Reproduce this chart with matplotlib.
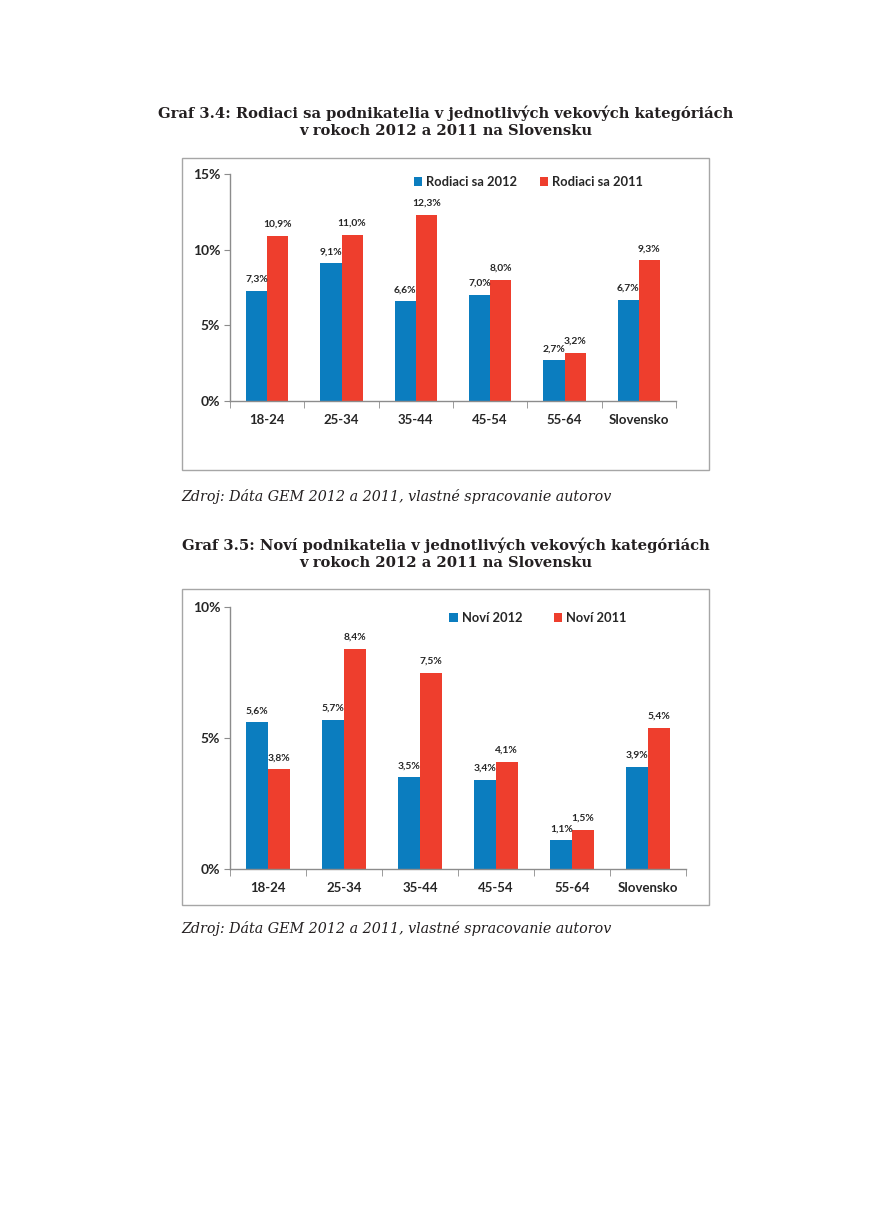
import matplotlib
matplotlib.use("Agg")
import matplotlib.pyplot as plt
from matplotlib.patches import Rectangle
import numpy as np

categories = ["18-24", "25-34", "35-44", "45-54", "55-64", "Slovensko"]

rodiaci_2012 = [7.3, 9.1, 6.6, 7.0, 2.7, 6.7]
rodiaci_2011 = [10.9, 11.0, 12.3, 8.0, 3.2, 9.3]
novi_2012 = [5.6, 5.7, 3.5, 3.4, 1.1, 3.9]
novi_2011 = [3.8, 8.4, 7.5, 4.1, 1.5, 5.4]

title1a = "Graf 3.4: Rodiaci sa podnikatelia v jednotlivých vekových kategóriách"
title1b = "v rokoch 2012 a 2011 na Slovensku"
title2a = "Graf 3.5: Noví podnikatelia v jednotlivých vekových kategóriách"
title2b = "v rokoch 2012 a 2011 na Slovensku"
source = "Zdroj: Dáta GEM 2012 a 2011, vlastné spracovanie autorov"

BLUE = "#0B7DBF"
RED = "#EE3E2D"
GRAY = "#8C8C8C"
W, H = 871, 1231

fig = plt.figure(figsize=(W / 100, H / 100), dpi=100)
fig.patch.set_facecolor("white")
renderer = fig.canvas.get_renderer()

SANS = ["Lato", "DejaVu Sans"]
SERIF = ["DejaVu Serif"]


def fit_text(x, y, s, target_w, **kw):
    t = fig.text(x / W, 1 - y / H, s, fontsize=12, **kw)
    w = t.get_window_extent(renderer).width
    t.set_fontsize(12 * target_w / w)
    return t


def px_axes(x0, y0, x1, y1):
    return fig.add_axes([x0 / W, 1 - y1 / H, (x1 - x0) / W, (y1 - y0) / H])


def box(x0, y0, x1, y1):
    fig.patches.append(Rectangle((x0 / W, 1 - y1 / H), (x1 - x0) / W, (y1 - y0) / H,
                                 transform=fig.transFigure, fill=False,
                                 edgecolor="#A6A6A6", linewidth=1.0))


def fmt(v):
    return f"{v:.1f}".replace(".", ",") + "%"


def chart(ax, s12, s11, ymax, yticks, names, legend_pos, colsp):
    x = np.arange(len(categories))
    w = 0.285
    ax.bar(x - w / 2, s12, width=w, color=BLUE, label=names[0])
    ax.bar(x + w / 2, s11, width=w, color=RED, label=names[1])
    for xs, vals in ((x - w / 2, s12), (x + w / 2, s11)):
        for xi, v in zip(xs, vals):
            ax.annotate(fmt(v), (xi, v), xytext=(0, 5), textcoords="offset points",
                        ha="center", va="bottom", fontsize=7.4, fontweight="bold",
                        family=SANS, color="#262626")
    ax.set_xlim(-0.5, len(categories) - 0.5)
    ax.set_ylim(0, ymax)
    ax.set_yticks(yticks)
    ax.set_yticklabels([f"{t}%" for t in yticks], fontsize=10, fontweight="bold",
                       family=SANS, color="#262626")
    ax.set_xticks(x)
    ax.set_xticklabels(categories, fontsize=9.5, fontweight="bold", family=SANS,
                       color="#262626")
    ax.set_xticks(np.arange(-0.5, len(categories)), minor=True)
    ax.tick_params(axis="x", which="major", length=0, pad=9)
    ax.tick_params(axis="x", which="minor", length=5, color=GRAY, direction="out")
    ax.tick_params(axis="y", which="major", length=4, color=GRAY, direction="out", pad=3)
    for s in ["top", "right"]:
        ax.spines[s].set_visible(False)
    for s in ["left", "bottom"]:
        ax.spines[s].set_color(GRAY)
        ax.spines[s].set_linewidth(1.0)
    leg = ax.legend(loc="upper left", bbox_to_anchor=legend_pos, ncol=2, frameon=False,
                    prop={"family": SANS, "weight": "bold", "size": 9.3},
                    handlelength=0.65, handleheight=0.65, handletextpad=0.3,
                    columnspacing=colsp, borderaxespad=0)
    for t in leg.get_texts():
        t.set_color("#262626")


title_kw = dict(ha="center", va="center", fontweight="bold", family=SERIF, color="#231F20")
cap_kw = dict(ha="left", va="center", style="italic", family=SERIF, color="#231F20")

# Chart 1
t = fit_text(446, 113, title1a, 572, **title_kw)
fig.text(446 / W, 1 - 131 / H, title1b, fontsize=t.get_fontsize(), **title_kw)
box(182, 158, 709, 470)
ax1 = px_axes(230, 174, 676, 401)
chart(ax1, rodiaci_2012, rodiaci_2011, 15, [0, 5, 10, 15],
      ["Rodiaci sa 2012", "Rodiaci sa 2011"], (0.40, 1.015), 1.8)
fit_text(181, 496, source, 430, **cap_kw)

# Chart 2
t = fit_text(446, 545, title2a, 524, **title_kw)
fig.text(446 / W, 1 - 563 / H, title2b, fontsize=t.get_fontsize(), **title_kw)
box(182, 589, 709, 905)
ax2 = px_axes(230, 607, 686, 869)
chart(ax2, novi_2012, novi_2011, 10, [0, 5, 10],
      ["Noví 2012", "Noví 2011"], (0.47, 1.0), 2.45)
fit_text(181, 929, source, 430, **cap_kw)

fig.savefig("out.png", dpi=100, facecolor="white")
